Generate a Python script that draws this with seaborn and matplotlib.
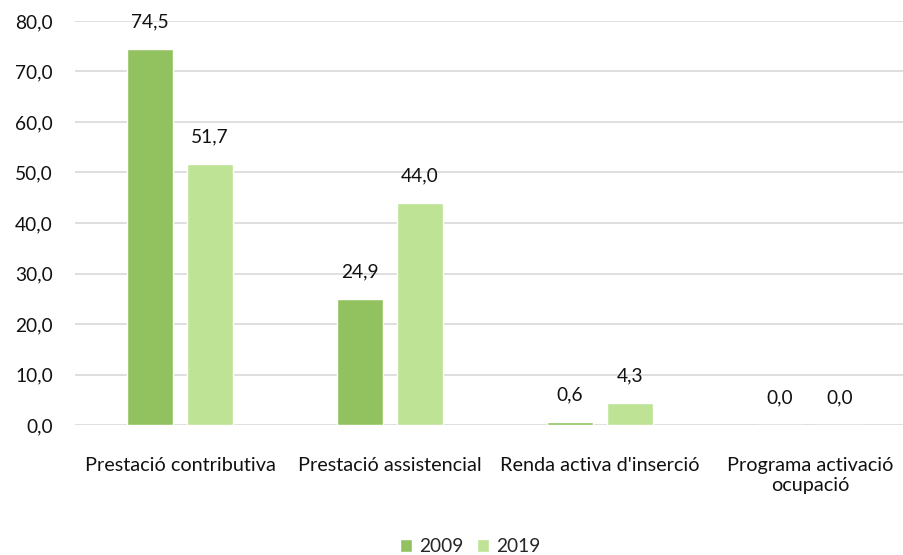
import pandas as pd
import numpy as np
import matplotlib.pyplot as plt
import seaborn as sns

# Dades
categories = [
    "Prestació contributiva",
    "Prestació assistencial",
    "Renda activa d'inserció",
    "Programa activació\nocupació",
]
years = ["2009", "2019"]
values_2009 = [74.5, 24.9, 0.6, 0.0]
values_2019 = [51.7, 44.0, 4.3, 0.0]

df = pd.DataFrame({
    "categoria": categories * 2,
    "any": [years[0]] * 4 + [years[1]] * 4,
    "valor": values_2009 + values_2019,
})

sns.set_theme(style="white")
plt.rcParams["font.family"] = ["Lato", "DejaVu Sans"]

fig = plt.figure(figsize=(9.04, 5.55), dpi=100)
ax = fig.add_axes([75 / 904, 130 / 555, 829 / 904, 404 / 555])

palette = {"2009": "#92C25F", "2019": "#BEE395"}

sns.barplot(
    data=df,
    x="categoria",
    y="valor",
    hue="any",
    palette=palette,
    width=0.571,
    gap=0.23,
    saturation=1,
    ax=ax,
)

ax.set_xlim(-0.5, 3.448)
ax.set_ylim(0, 80)
ax.set_yticks(np.arange(0, 81, 10))
ax.set_yticklabels([f"{v:.1f}".replace(".", ",") for v in np.arange(0, 81, 10)])
ax.yaxis.grid(True, color="#D9D9D9", linewidth=1.2)
ax.set_axisbelow(True)
for s in ax.spines.values():
    s.set_visible(False)

ax.tick_params(axis="y", length=0, labelsize=13.8, colors="#111111", pad=16)
ax.tick_params(axis="x", length=0, labelsize=14.3, colors="#111111", pad=23)
for lbl in ax.get_xticklabels():
    lbl.set_linespacing(1.25)
ax.set_xlabel("")
ax.set_ylabel("")

# Etiquetes de valors
for container in ax.containers:
    for bar in container:
        h = bar.get_height()
        ax.annotate(
            f"{h:.1f}".replace(".", ","),
            (bar.get_x() + bar.get_width() / 2, h),
            xytext=(0, 19.5),
            textcoords="offset points",
            ha="center",
            va="center",
            fontsize=13.8,
            color="#111111",
            annotation_clip=False,
        )

leg = ax.legend(
    loc="center",
    bbox_to_anchor=(470 / 904, 8 / 555),
    bbox_transform=fig.transFigure,
    ncol=2,
    frameon=False,
    fontsize=13.8,
    handlelength=0.65,
    handleheight=0.65,
    handletextpad=0.35,
    columnspacing=0.7,
)

plt.savefig("out.png", dpi=100)
